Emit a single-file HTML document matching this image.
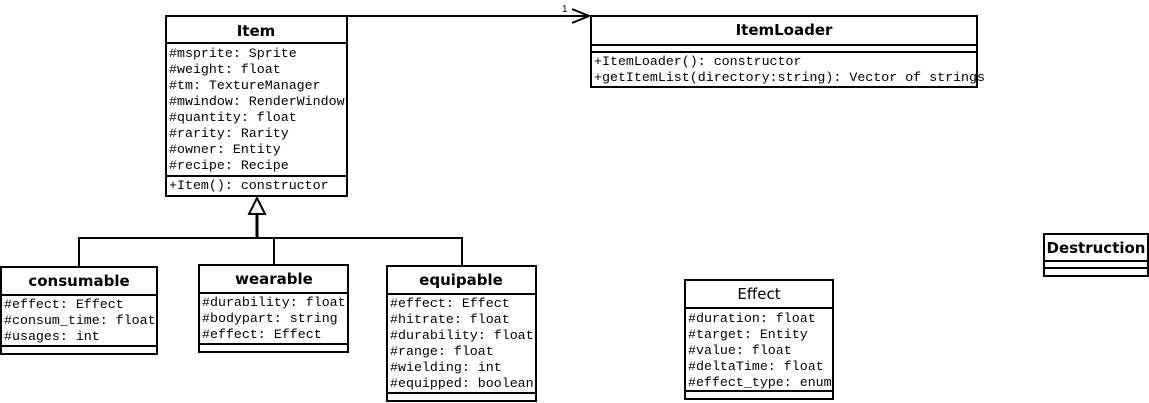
<!DOCTYPE html>
<html><head><style>body{margin:0;background:#fff}</style></head><body>
<svg width="1149" height="403" xmlns="http://www.w3.org/2000/svg" style="display:block">
<style>
.m{font-family:"Liberation Mono",monospace;font-size:13.3px;fill:#000}
.t{font-family:"DejaVu Sans","Liberation Sans",sans-serif;font-size:15px;font-weight:bold;text-anchor:middle}
.tn{font-family:"DejaVu Sans","Liberation Sans",sans-serif;font-size:15px;text-anchor:middle}
rect,line,path,polyline{fill:none;stroke:#000;stroke-width:2}
</style>
<line x1="347" y1="16" x2="589" y2="16"/>
<polyline points="572,9 589,16 572,23"/>
<text x="562" y="12" style="font-family:'Liberation Sans',sans-serif;font-size:10px">1</text>
<polygon points="257,198 249,214 265,214" fill="#fff" stroke="#000" stroke-width="2"/>
<line x1="257" y1="214" x2="257" y2="238" style="stroke-width:3"/>
<polyline points="79,267 79,238 462,238 462,266"/>
<line x1="274" y1="238" x2="274" y2="265"/>

<rect x="166" y="16" width="181" height="180" fill="#fff"/>
<line x1="166" y1="43" x2="347" y2="43"/>
<line x1="166" y1="176" x2="347" y2="176"/>
<text class="t" x="256" y="36">Item</text>
<g class="m">
<text x="169" y="57">#msprite: Sprite</text>
<text x="169" y="73">#weight: float</text>
<text x="169" y="89">#tm: TextureManager</text>
<text x="169" y="105">#mwindow: RenderWindow</text>
<text x="169" y="121">#quantity: float</text>
<text x="169" y="137">#rarity: Rarity</text>
<text x="169" y="153">#owner: Entity</text>
<text x="169" y="169">#recipe: Recipe</text>
<text x="169" y="189">+Item(): constructor</text>
</g>

<rect x="591" y="16" width="386" height="71"/>
<line x1="591" y1="45" x2="977" y2="45"/>
<line x1="591" y1="52" x2="977" y2="52"/>
<text class="t" x="784" y="35">ItemLoader</text>
<g class="m">
<text x="594" y="65">+ItemLoader(): constructor</text>
<text x="594" y="81">+getItemList(directory:string): Vector of strings</text>
</g>

<rect x="1" y="267" width="156" height="87"/>
<line x1="1" y1="295" x2="157" y2="295"/>
<line x1="1" y1="346" x2="157" y2="346"/>
<text class="t" x="79" y="286">consumable</text>
<g class="m">
<text x="4" y="308">#effect: Effect</text>
<text x="4" y="324">#consum_time: float</text>
<text x="4" y="340">#usages: int</text>
</g>

<rect x="199" y="265" width="149" height="87"/>
<line x1="199" y1="293" x2="348" y2="293"/>
<line x1="199" y1="344" x2="348" y2="344"/>
<text class="t" x="274" y="284">wearable</text>
<g class="m">
<text x="202" y="306">#durability: float</text>
<text x="202" y="322">#bodypart: string</text>
<text x="202" y="338">#effect: Effect</text>
</g>

<rect x="387" y="266" width="149" height="135"/>
<line x1="387" y1="294" x2="536" y2="294"/>
<line x1="387" y1="393" x2="536" y2="393"/>
<text class="t" x="461" y="285">equipable</text>
<g class="m">
<text x="390" y="307">#effect: Effect</text>
<text x="390" y="323">#hitrate: float</text>
<text x="390" y="339">#durability: float</text>
<text x="390" y="355">#range: float</text>
<text x="390" y="371">#wielding: int</text>
<text x="390" y="387">#equipped: boolean</text>
</g>

<rect x="685" y="280" width="148" height="119"/>
<line x1="685" y1="308" x2="833" y2="308"/>
<line x1="685" y1="391" x2="833" y2="391"/>
<text class="tn" x="759" y="299">Effect</text>
<g class="m">
<text x="688" y="322">#duration: float</text>
<text x="688" y="338">#target: Entity</text>
<text x="688" y="354">#value: float</text>
<text x="688" y="370">#deltaTime: float</text>
<text x="688" y="386">#effect_type: enum</text>
</g>

<rect x="1044" y="234" width="104" height="42"/>
<line x1="1044" y1="261" x2="1148" y2="261"/>
<line x1="1044" y1="268" x2="1148" y2="268"/>
<text class="t" x="1096" y="253">Destruction</text>
</svg>
</body></html>
